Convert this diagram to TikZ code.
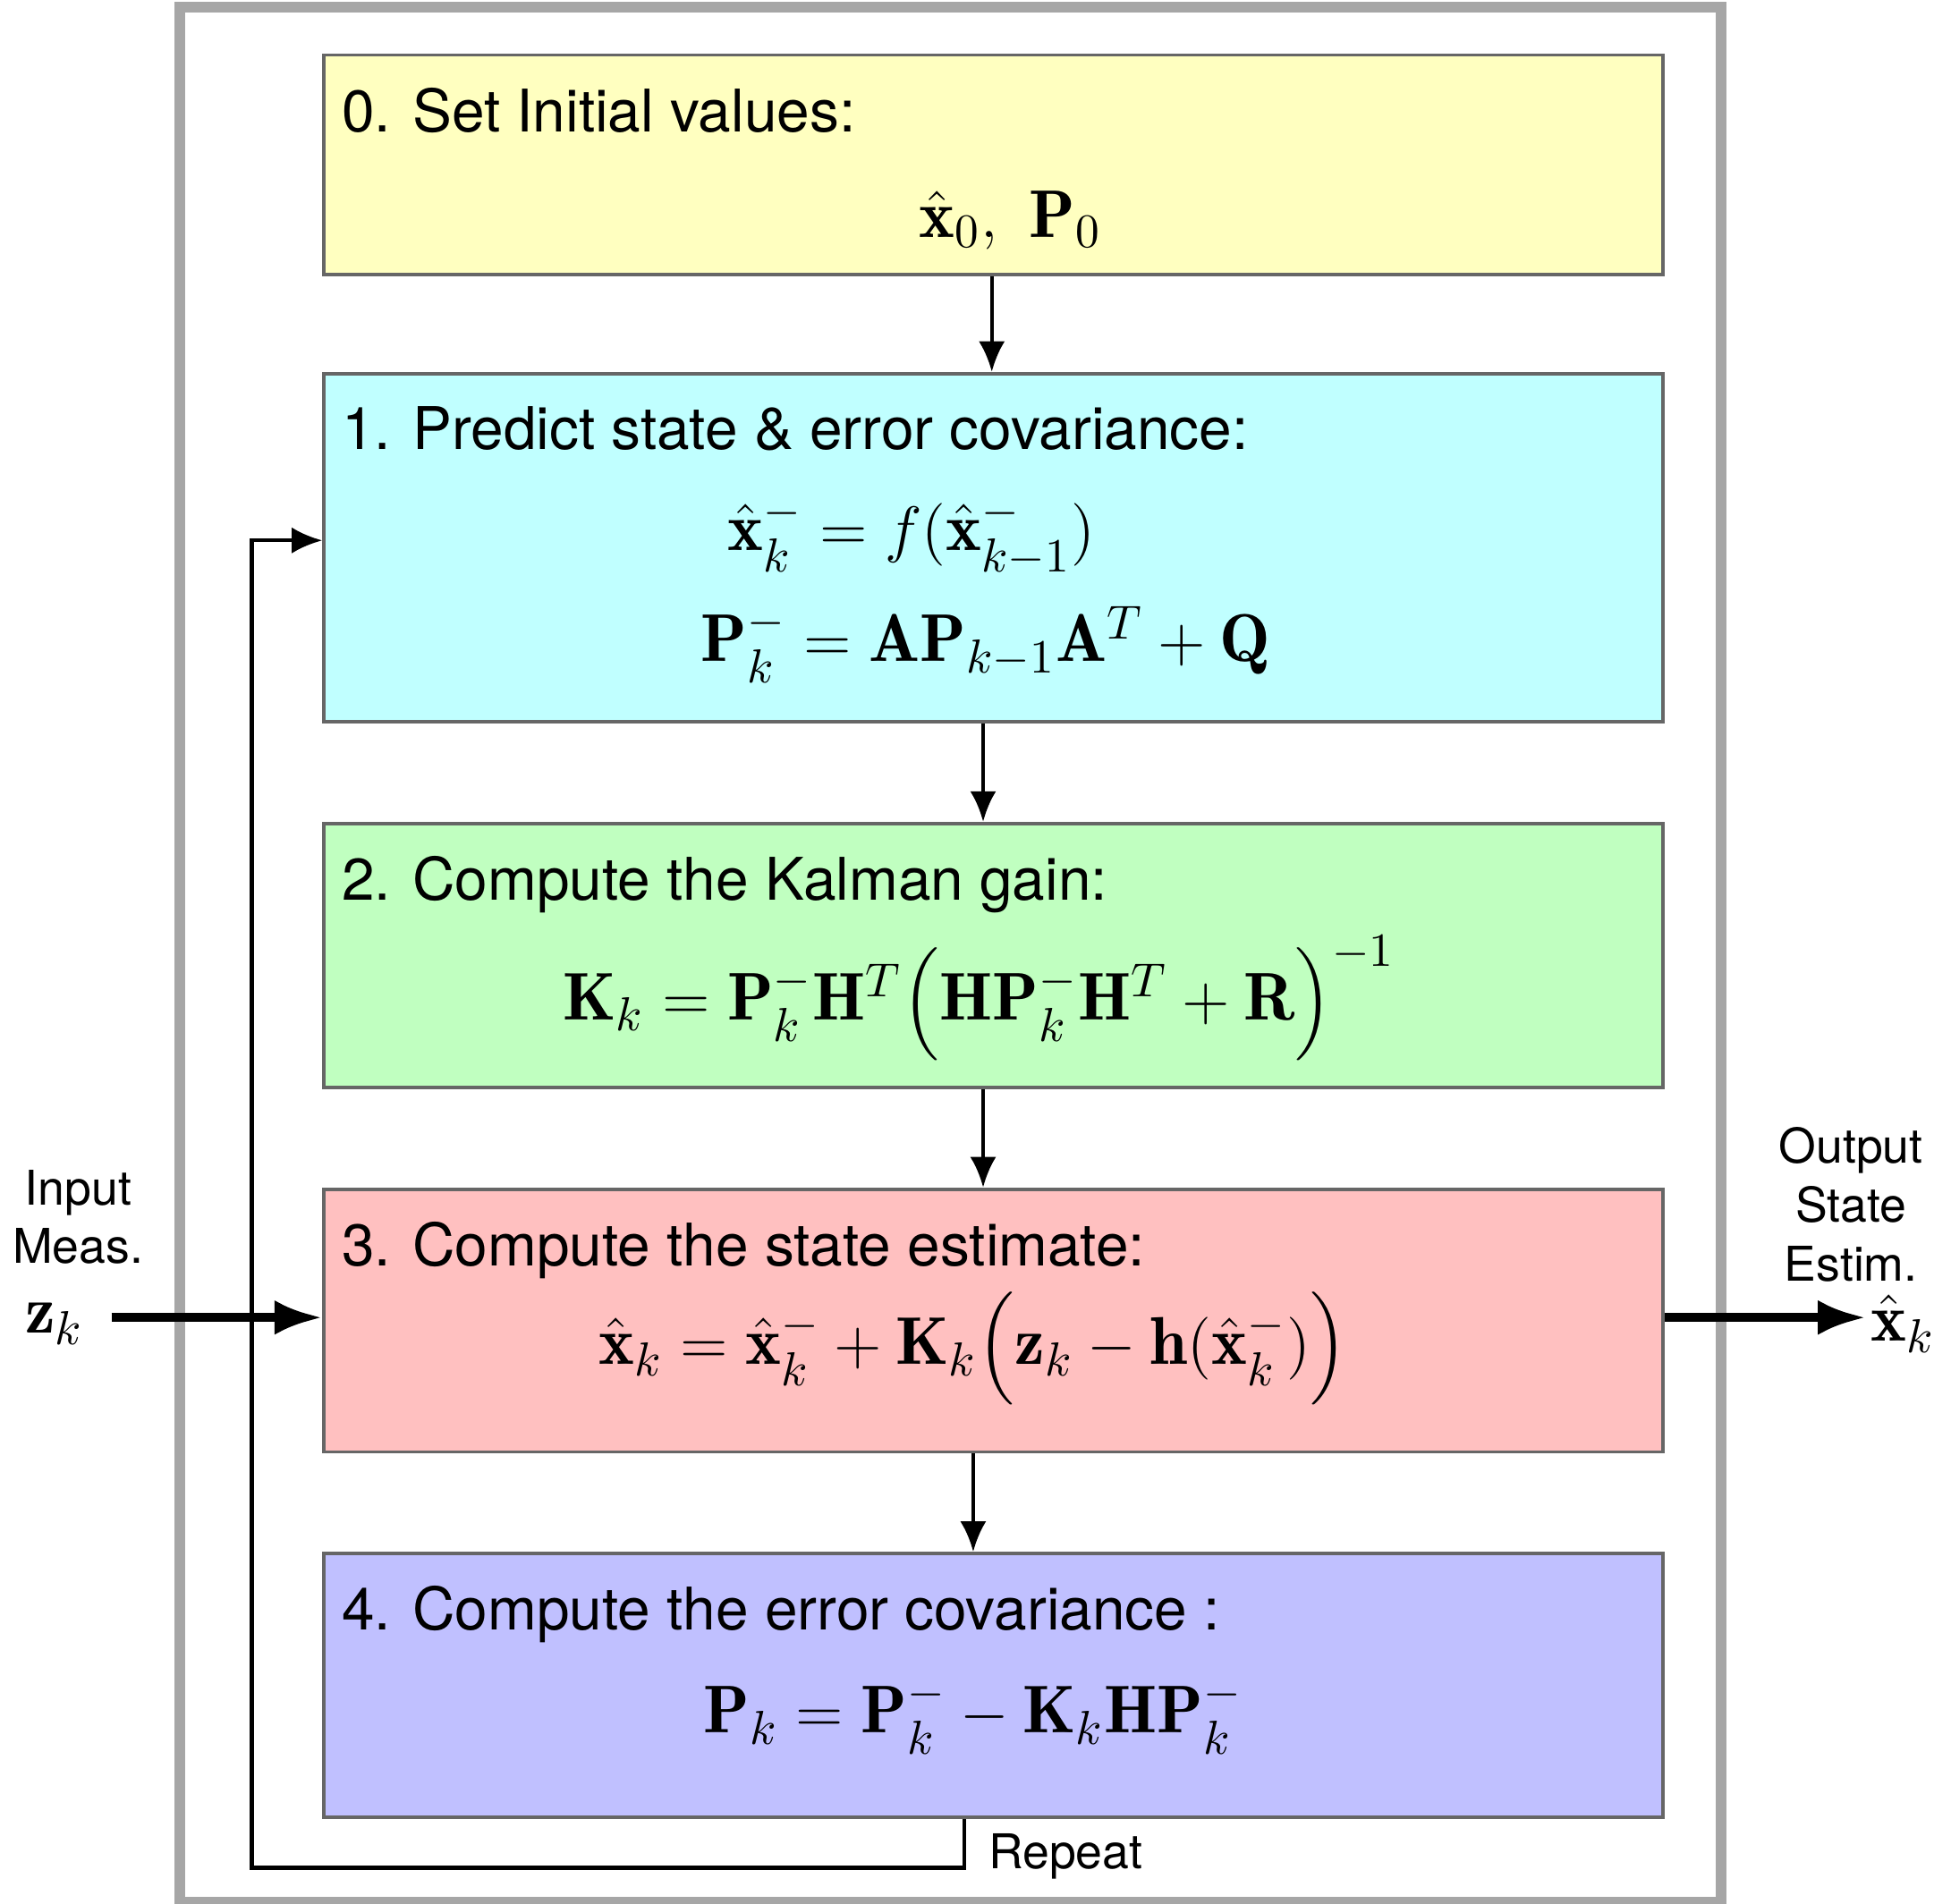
\documentclass[tikz,border=0pt]{standalone}
\usepackage{amsmath}
\usepackage{bm}
\usepackage{fontspec}
\setsansfont{TeX Gyre Heros}
\usetikzlibrary{arrows.meta, positioning}
\definecolor{boxyellow}{RGB}{255,255,192}
\definecolor{boxcyan}{RGB}{192,255,255}
\definecolor{boxgreen}{RGB}{192,255,192}
\definecolor{boxred}{RGB}{255,192,192}
\definecolor{boxblue}{RGB}{192,192,255}
\newcommand{\xh}{\hat{\mathbf{x}}}
\tikzset{
  stage/.style={draw=black!60, line width=0.8pt, minimum width=10.8cm, anchor=north west, inner sep=0pt},
  heading/.style={anchor=north west, font=\sffamily\fontsize{13.5}{16}\selectfont, inner sep=0pt},
  formula/.style={font=\fontsize{15.5}{19}\selectfont},
  side/.style={font=\sffamily\fontsize{11}{13.5}\selectfont, align=center},
  flow/.style={-{Latex[length=7pt,width=6pt]}, line width=0.9pt},
  feed/.style={-{Latex[length=11pt,width=8pt]}, line width=2pt}
}
\begin{document}
\begin{tikzpicture}
    \useasboundingbox (0,0) rectangle (15.6,-15.36);
    % frame
    \draw[black!35, line width=2.5pt] (1.45,-0.06) rectangle (13.88,-15.35);
    % stages
    \node[stage, fill=boxyellow, minimum height=1.77cm] (s0) at (2.6,-0.43) {};
    \node[stage, fill=boxcyan, minimum height=2.81cm] (s1) at (2.6,-3.0) {};
    \node[stage, fill=boxgreen, minimum height=2.13cm] (s2) at (2.6,-6.63) {};
    \node[stage, fill=boxred, minimum height=2.12cm] (s3) at (2.6,-9.58) {};
    \node[stage, fill=boxblue, minimum height=2.13cm] (s4) at (2.6,-12.52) {};
    % headings
    \node[heading] (h0) at (2.75,-0.7) {0. Set Initial values:};
    \node[heading] (h1) at (2.75,-3.27) {1. Predict state \& error covariance:};
    \node[heading] (h2) at (2.75,-6.9) {2. Compute the Kalman gain:};
    \node[heading] (h3) at (2.75,-9.85) {3. Compute the state estimate:};
    \node[heading] (h4) at (2.75,-12.79) {4. Compute the error covariance :};
    % formulas
    \node[formula] (f0) at (8.15,-1.78) {$\xh_0,\ \mathbf{P}_0$};
    \node[formula] (f1a) at (7.35,-4.33) {$\xh_k^- = f(\xh_{k-1}^-)$};
    \node[formula] (f1b) at (7.95,-5.2) {$\mathbf{P}_k^- = \mathbf{A}\mathbf{P}_{k-1}\mathbf{A}^T + \mathbf{Q}$};
    \node[formula] (f2) at (7.9,-8.05) {$\mathbf{K}_k = \mathbf{P}_k^-\mathbf{H}^T\Bigl(\mathbf{H}\mathbf{P}_k^-\mathbf{H}^T + \mathbf{R}\Bigr)^{-1}$};
    \node[formula] (f3) at (7.85,-10.88) {$\xh_k = \xh_k^- + \mathbf{K}_k\Bigl(\mathbf{z}_k - \mathbf{h}(\xh_k^-)\Bigr)$};
    \node[formula] (f4) at (7.85,-13.85) {$\mathbf{P}_k = \mathbf{P}_k^- - \mathbf{K}_k\mathbf{H}\mathbf{P}_k^-$};
    % flow
    \draw[flow] (s0.south -| 8.0,0) -- (s1.north -| 8.0,0);
    \draw[flow] (s1.south -| 7.93,0) -- (s2.north -| 7.93,0);
    \draw[flow] (s2.south -| 7.93,0) -- (s3.north -| 7.93,0);
    \draw[flow] (s3.south -| 7.85,0) -- (s4.north -| 7.85,0);
    % repeat loop
    \coordinate (loop) at (2.03,-15.07);
    \draw[flow] (s4.south -| 7.78,0) -- (7.78,-15.07) -- (loop) |- (s1.west |- 0,-4.36);
    \node[side, anchor=west] (rep) at (7.85,-14.98) {Repeat};
    % input / output
    \node[side] (inlbl) at (0.63,-9.82) {Input\\Meas.};
    \node[formula, anchor=east] (zk) at (0.8,-10.68) {$\mathbf{z}_k$};
    \coordinate (in) at (0.9,-10.63);
    \draw[feed] (in) -- (s3.west |- in);
    \node[side] (outlbl) at (14.93,-9.72) {Output\\State\\Estim.};
    \coordinate (out) at (15.05,-10.63);
    \draw[feed] (s3.east |- out) -- (out);
    \node[formula, anchor=west, inner sep=1pt] (xk) at (15.05,-10.68) {$\xh_k$};
\end{tikzpicture}
\end{document}
